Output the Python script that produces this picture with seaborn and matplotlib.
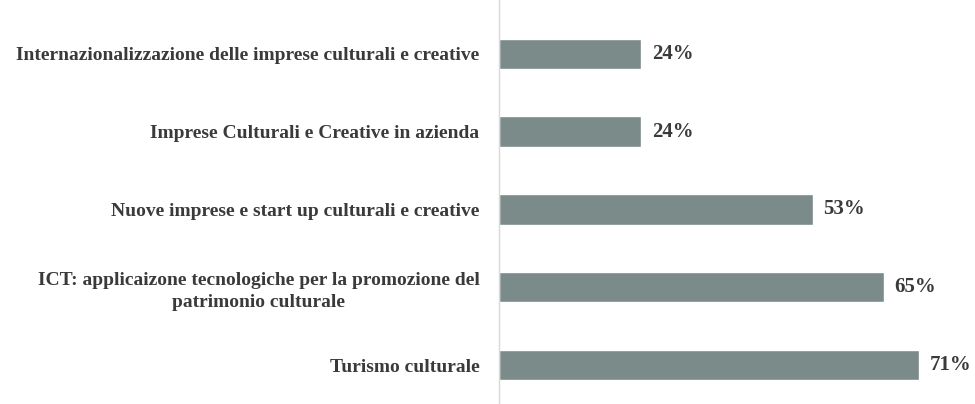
import numpy as np
import pandas as pd
import seaborn as sns
import matplotlib.pyplot as plt

# ---------------- Data ----------------
categories = [
    "Internazionalizzazione delle imprese culturali e creative",
    "Imprese Culturali e Creative in azienda",
    "Nuove imprese e start up culturali e creative",
    "ICT: applicaizone tecnologiche per la promozione del\npatrimonio culturale",
    "Turismo culturale",
]
values = [24, 24, 53, 65, 71]
value_labels = ["24%", "24%", "53%", "65%", "71%"]

df = pd.DataFrame({"categoria": categories, "valore": values})

# ---------------- Plot ----------------
sns.set_theme(style="white")
plt.rcParams["font.family"] = ["Liberation Serif", "DejaVu Serif"]

fig = plt.figure(figsize=(9.75, 4.04), dpi=100)
ax = fig.add_axes([499 / 975, 0.0, 476 / 975, 1.0])

bar_color = "#7b8b89"
sns.barplot(data=df, x="valore", y="categoria", color=bar_color,
            width=0.39, saturation=1, ax=ax)

ax.set_xlim(0, 80.4)
ax.set_ylim(4.5, -0.69)
ax.set_xlabel("")
ax.set_ylabel("")
ax.set_xticks([])

for lab in ax.get_yticklabels():
    lab.set_fontweight("bold")
    lab.set_fontsize(14)
    lab.set_color("#3a3a3a")
    lab.set_multialignment("center")
    lab.set_linespacing(1.35)
ax.tick_params(axis="y", length=0, pad=14)

for i, (v, t) in enumerate(zip(values, value_labels)):
    ax.text(v + 1.8, i, t, va="center", ha="left", fontsize=15,
            fontweight="bold", color="#3a3a3a")

for s in ["top", "right", "bottom"]:
    ax.spines[s].set_visible(False)
ax.spines["left"].set_color("#d9d9d9")
ax.spines["left"].set_linewidth(1)

fig.savefig("out.png", dpi=100)
